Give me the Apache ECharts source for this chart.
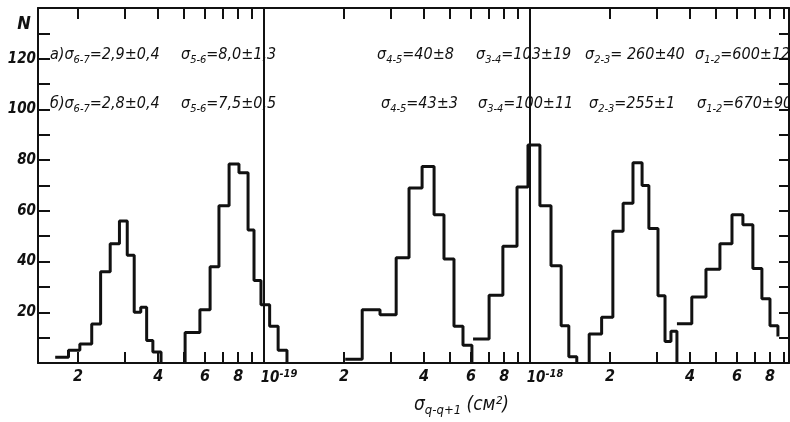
<!DOCTYPE html>
<html><head><meta charset="utf-8">
<script src="https://cdn.jsdelivr.net/npm/echarts@6/dist/echarts.min.js"></script>
<style>html,body{margin:0;padding:0;background:#fff}#c{width:790px;height:422px}</style>
</head><body><div id="c"></div>
<script>
// ---- data (cross-sections in cm^2, counts N) ----
const edges67 = [1.64e-20, 1.84e-20, 2.03e-20, 2.25e-20, 2.43e-20, 2.64e-20, 2.86e-20, 3.06e-20, 3.25e-20, 3.44e-20, 3.62e-20, 3.82e-20, 4.10e-20];
const counts67 = [2.3, 5, 7.5, 15.4, 36, 47, 56, 42.5, 20, 22, 8.9, 4.3];
const edges56 = [5.05e-20, 5.74e-20, 6.27e-20, 6.77e-20, 7.39e-20, 8.05e-20, 8.71e-20, 9.17e-20, 9.74e-20, 1.05e-19, 1.13e-19, 1.22e-19];
const counts56 = [12, 21, 38, 62, 78.5, 75, 52.5, 32.5, 23, 14.5, 5];
const edges45 = [2.02e-19, 2.34e-19, 2.73e-19, 3.14e-19, 3.51e-19, 3.93e-19, 4.36e-19, 4.75e-19, 5.18e-19, 5.60e-19, 6.05e-19];
const counts45 = [1.5, 21, 19, 41.5, 69, 77.5, 58.5, 41, 14.5, 7];
const edges34 = [6.11e-19, 7.02e-19, 7.91e-19, 8.94e-19, 9.83e-19, 1.09e-18, 1.20e-18, 1.31e-18, 1.40e-18, 1.50e-18];
const counts34 = [9.5, 26.7, 46, 69.4, 86, 62, 38.4, 14.7, 2.5];
const edges23 = [1.67e-18, 1.86e-18, 2.05e-18, 2.24e-18, 2.44e-18, 2.64e-18, 2.80e-18, 3.03e-18, 3.22e-18, 3.39e-18, 3.57e-18];
const counts23 = [11.4, 18, 52, 63, 79, 70, 53, 26.5, 8.5, 12.5];
const edges12 = [3.57e-18, 4.06e-18, 4.59e-18, 5.18e-18, 5.75e-18, 6.32e-18, 6.89e-18, 7.45e-18, 7.99e-18, 8.56e-18];
const counts12 = [15.5, 26, 37, 47, 58.5, 54.5, 37.3, 25.3, 14.7];
// outline start/end levels (null = histogram outline starts without a rising edge)
const startLevels = [null, 0, null, null, 0, null];
const endLevels = [0, 0, 0, 0, 0, 10.5];

const xMin = 1.413e-20, xMax = 9.42e-18;
const xTickValues = [2e-20,3e-20,4e-20,5e-20,6e-20,7e-20,8e-20,9e-20,1e-19,
  2e-19,3e-19,4e-19,5e-19,6e-19,7e-19,8e-19,9e-19,1e-18,
  2e-18,3e-18,4e-18,5e-18,6e-18,7e-18,8e-18,9e-18];
const xLabelValues = [2e-20,4e-20,6e-20,8e-20,1e-19,2e-19,4e-19,6e-19,8e-19,1e-18,2e-18,4e-18,6e-18,8e-18];
const xLabelTexts = ['2','4','6','8','10^-19','2','4','6','8','10^-18','2','4','6','8'];
const decadeLines = [1e-19, 1e-18];
const yLabelValues = [20, 40, 60, 80, 100, 120];
const yTickValues = [10,20,30,40,50,60,70,80,90,100,110,120,130];

const rowA = [['а)σ','6-7','=2,9±0,4'], ['σ','5-6','=8,0±1,3'], ['σ','4-5','=40±8'], ['σ','3-4','=103±19'], ['σ','2-3','= 260±40'], ['σ','1-2','=600±120']];
const rowB = [['б)σ','6-7','=2,8±0,4'], ['σ','5-6','=7,5±0,5'], ['σ','4-5','=43±3'], ['σ','3-4','=100±11'], ['σ','2-3','=255±1'], ['σ','1-2','=670±90']];

// ---- layout ----
const rowAX = [50, 181, 377, 476, 585, 695];
const rowBX = [50, 181, 381, 478, 589, 697];
const rowAY = 55, rowBY = 104;

const L = Math.log10;
const hists = [[edges67,counts67],[edges56,counts56],[edges45,counts45],[edges34,counts34],[edges23,counts23],[edges12,counts12]];
function outline(e, c, s, end) {
  const p = [];
  if (s !== null) p.push([L(e[0]), s]);
  for (let i = 0; i < c.length; i++) { p.push([L(e[i]), c[i]]); p.push([L(e[i+1]), c[i]]); }
  if (end !== null) p.push([L(e[e.length-1]), end]);
  return p;
}
const INK = '#111';
const FF = "'DejaVu Sans Condensed', 'DejaVu Sans', sans-serif";
const series = hists.map((h, k) => ({
  type: 'line', data: outline(h[0], h[1], startLevels[k], endLevels[k]),
  showSymbol: false, symbol: 'none', lineStyle: { color: INK, width: 3 }, silent: true, animation: false,
  markLine: k === 0 ? { symbol: 'none', silent: true, label: { show: false }, animation: false,
    lineStyle: { color: INK, width: 2, type: 'solid' },
    data: decadeLines.map(v => ({ xAxis: L(v) })) } : undefined
}));

const richSub = { fontSize: 11, fontStyle: 'italic', fontFamily: FF, fill: INK, padding: [11, 0, 0, 0] };
const richMain = { fontSize: 16, fontStyle: 'italic', fontFamily: FF, fill: INK };
function annot(parts, x, y) {
  return { type: 'text', x: x, y: y, silent: true,
    style: { text: '{m|' + parts[0] + '}{s|' + parts[1] + '}{m|' + parts[2] + '}', verticalAlign: 'middle', align: 'left',
      rich: { m: richMain, s: richSub } } };
}
const graphics = [];
rowA.forEach((p, i) => graphics.push(annot(p, rowAX[i], rowAY)));
rowB.forEach((p, i) => graphics.push(annot(p, rowBX[i], rowBY)));
graphics.push({ type: 'text', x: 24, y: 24, silent: true, style: { text: 'N', fontSize: 18, fontWeight: 'bold', fontStyle: 'italic', fontFamily: FF, fill: INK, align: 'center', verticalAlign: 'middle' } });

function xFmt(v) {
  for (let i = 0; i < xLabelValues.length; i++) {
    if (Math.abs(L(xLabelValues[i]) - v) < 1e-6) {
      const t = xLabelTexts[i];
      if (t.indexOf('^') >= 0) { const q = t.split('^'); return '{d|' + q[0] + '}{e|' + q[1] + '}'; }
      return t;
    }
  }
  return '';
}
const axisX = (pos, labels) => ({
  type: 'value', position: pos, min: L(xMin), max: L(xMax),
  axisLine: { show: true, onZero: false, lineStyle: { color: INK, width: 2 } },
  axisTick: { show: true, inside: true, length: 11, customValues: xTickValues.map(L), lineStyle: { color: INK, width: 2 } },
  axisLabel: { show: labels, customValues: xLabelValues.map(L), formatter: xFmt, margin: 6, color: INK,
    fontSize: 16, fontStyle: 'italic', fontWeight: 'bold', fontFamily: FF,
    rich: { d: { fontSize: 15, fontStyle: 'italic', fontWeight: 'bold', fontFamily: FF, color: INK, padding: [0, 0, 0, 30] },
            e: { fontSize: 11, fontStyle: 'italic', fontWeight: 'bold', fontFamily: FF, color: INK, padding: [0, 0, 8, 0] } } },
  splitLine: { show: false },
  name: labels ? '{a|σ}{b|q-q+1}{a| (см²)}' : '', nameLocation: 'middle', nameGap: 30,
  nameTextStyle: { padding: [0, 0, 0, 96], rich: {
    a: { fontSize: 19, fontStyle: 'italic', fontFamily: FF, color: INK },
    b: { fontSize: 13, fontStyle: 'italic', fontFamily: FF, color: INK, padding: [11, 0, 0, 0] } } }
});
const axisY = (pos, labels) => ({
  type: 'value', position: pos, min: 0, max: 140, interval: 10,
  axisLine: { show: true, lineStyle: { color: INK, width: 2 } },
  axisTick: { show: true, inside: true, length: labels ? 12 : 10, customValues: yTickValues, lineStyle: { color: INK, width: 2 } },
  axisLabel: { show: labels, customValues: yLabelValues, margin: 2, color: INK, fontSize: 15, fontStyle: 'italic', fontWeight: 'bold', fontFamily: FF },
  splitLine: { show: false }
});

const chart = echarts.init(document.getElementById('c'), null, { renderer: 'canvas' });
chart.setOption({
  animation: false,
  backgroundColor: '#fff',
  grid: { left: 38, right: 1, top: 8, bottom: 56, containLabel: false },
  xAxis: [axisX('bottom', true), axisX('top', false)],
  yAxis: [axisY('left', true), axisY('right', false)],
  series: series,
  graphic: graphics
});
</script></body></html>
